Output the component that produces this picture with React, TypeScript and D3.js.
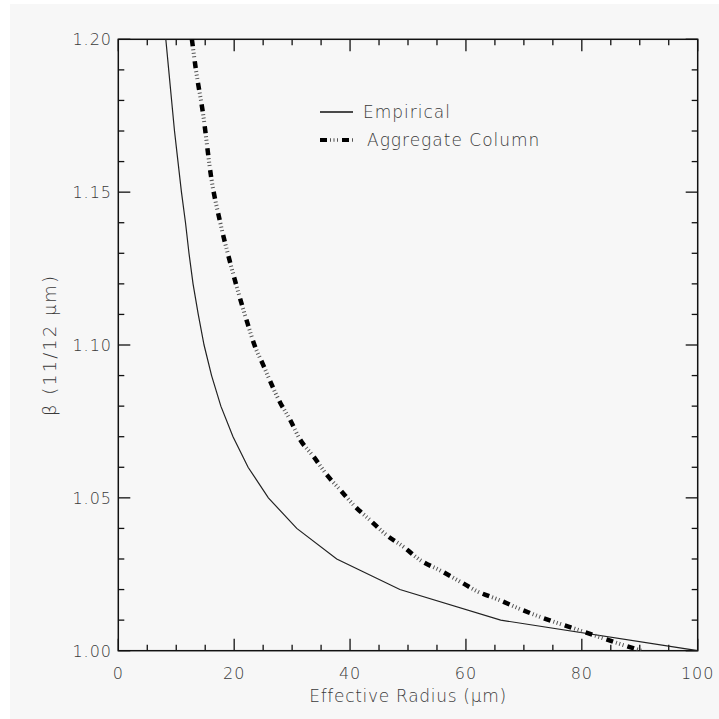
import React from "react";
import * as d3 from "d3";

// Empirical curve: effective radius (µm) vs beta
const empR = [8.2, 8.7, 9.2, 9.7, 10.3, 10.9, 11.6, 12.2, 12.9, 13.8, 14.8, 16.1, 17.7, 19.8, 22.4, 25.9, 30.8, 37.7, 48.6, 66.0, 100];
const empB = [1.2, 1.19, 1.18, 1.17, 1.16, 1.15, 1.14, 1.13, 1.12, 1.11, 1.1, 1.09, 1.08, 1.07, 1.06, 1.05, 1.04, 1.03, 1.02, 1.01, 1.0];

// Aggregate column curve
const aggR = [12.7, 13.4, 14.6, 16.1, 17.6, 19.3, 20.3, 22.4, 23.5, 25.0, 27.9, 29.6, 31.4, 33.7, 36.0, 38.3, 40.9, 43.4, 46.3, 49.2, 52.2, 55.4, 59.0, 62.1, 65.6, 69.0, 72.3, 79.4, 83.1, 86.6, 90.3];
const aggB = [1.2, 1.19, 1.176, 1.154, 1.14, 1.127, 1.12, 1.1065, 1.1, 1.0935, 1.0813, 1.0757, 1.069, 1.0635, 1.0575, 1.0526, 1.0471, 1.0428, 1.0378, 1.034, 1.0295, 1.0264, 1.0226, 1.0193, 1.0167, 1.0139, 1.0114, 1.0068, 1.0044, 1.0022, 1.0];

const xMajor = [0, 20, 40, 60, 80, 100];
const yMajor = [1.0, 1.05, 1.1, 1.15, 1.2];
const seriesNames = ["Empirical", "Aggregate Column"];
const xTitle = "Effective Radius (μm)";
const yTitle = "β (11/12 μm)";

const W = 719, H = 719;
const L = 118.3, R = 697.7, T = 39.3, B = 650.7;

const FONT = "'DejaVu Sans', sans-serif";
const TXT = "#3a3a3a";

export default function App() {
  const x = d3.scaleLinear().domain([0, 100]).range([L, R]);
  const y = d3.scaleLinear().domain([1.0, 1.2]).range([B, T]);

  const line = d3
    .line<[number, number]>()
    .x((d) => x(d[0]))
    .y((d) => y(d[1]))
    .curve(d3.curveMonotoneX);

  const empPts: [number, number][] = empR.map((r, i) => [r, empB[i]]);
  const aggPts: [number, number][] = aggR.map((r, i) => [r, aggB[i]]);
  const linEmp = d3
    .line<[number, number]>()
    .x((d) => x(d[0]))
    .y((d) => y(d[1]));

  const xMinor = d3.range(0, 101, 5).filter((v) => v % 20 !== 0);
  const yMinor = d3.range(0, 21, 1).map((k) => 1 + k * 0.01).filter((_, k) => k % 5 !== 0);

  const major = 12, minor = 6;
  const stroke = "#111";

  const dashArr = "7 15";
  const dotArr = "0 10 1 2.5 1 2.5 1 4";

  return (
    <svg
      width={W}
      height={H}
      style={{ position: "absolute", left: 0, top: 0 }}
      fontFamily={FONT}
    >
      <rect x={0} y={0} width={W} height={H} fill="#ffffff" />
      <rect x={10} y={4} width={W - 10} height={H - 4} fill="#f7f7f7" />
      <defs>
        <clipPath id="plot">
          <rect x={L} y={T} width={R - L} height={B - T} />
        </clipPath>
      </defs>

      {/* frame */}
      <rect x={L} y={T} width={R - L} height={B - T} fill="none" stroke={stroke} strokeWidth={1.5} />

      {/* x ticks (bottom and top) */}
      {xMajor.map((v) => (
        <g key={"xm" + v}>
          <line x1={x(v)} x2={x(v)} y1={B} y2={B - major} stroke={stroke} strokeWidth={1.3} />
          <line x1={x(v)} x2={x(v)} y1={T} y2={T + major} stroke={stroke} strokeWidth={1.3} />
          <text x={x(v)} y={678.5} textAnchor="middle" fontSize={16} fontWeight={200} letterSpacing={1} fill={TXT}>
            {String(v)}
          </text>
        </g>
      ))}
      {xMinor.map((v) => (
        <g key={"xn" + v}>
          <line x1={x(v)} x2={x(v)} y1={B} y2={B - minor} stroke={stroke} strokeWidth={1.3} />
          <line x1={x(v)} x2={x(v)} y1={T} y2={T + minor} stroke={stroke} strokeWidth={1.3} />
        </g>
      ))}

      {/* y ticks (left and right) */}
      {yMajor.map((v) => (
        <g key={"ym" + v}>
          <line x1={L} x2={L + major} y1={y(v)} y2={y(v)} stroke={stroke} strokeWidth={1.3} />
          <line x1={R} x2={R - major} y1={y(v)} y2={y(v)} stroke={stroke} strokeWidth={1.3} />
          <text x={112} y={y(v) + 6} textAnchor="end" fontSize={16} fontWeight={200} letterSpacing={1} fill={TXT}>
            {v.toFixed(2)}
          </text>
        </g>
      ))}
      {yMinor.map((v, i) => (
        <g key={"yn" + i}>
          <line x1={L} x2={L + minor} y1={y(v)} y2={y(v)} stroke={stroke} strokeWidth={1.3} />
          <line x1={R} x2={R - minor} y1={y(v)} y2={y(v)} stroke={stroke} strokeWidth={1.3} />
        </g>
      ))}

      {/* curves */}
      <g clipPath="url(#plot)">
        <path d={linEmp(empPts) || ""} fill="none" stroke="#222" strokeWidth={1.2} />
        <path d={line(aggPts) || ""} fill="none" stroke="#555" strokeWidth={4} strokeDasharray={dotArr} />
        <path d={line(aggPts) || ""} fill="none" stroke="#000" strokeWidth={4.5} strokeDasharray={dashArr} />
      </g>

      {/* legend */}
      <g>
        <line x1={320} x2={353} y1={112} y2={112} stroke="#111" strokeWidth={1.5} />
        <text x={363} y={118} fontSize={17} fontWeight={200} letterSpacing={1} fill={TXT}>
          {seriesNames[0]}
        </text>
        <line x1={320} x2={353} y1={140} y2={140} stroke="#555" strokeWidth={3.5} strokeDasharray={dotArr} />
        <line x1={320} x2={353} y1={140} y2={140} stroke="#000" strokeWidth={4} strokeDasharray={dashArr} />
        <text x={367} y={146} fontSize={17} fontWeight={200} letterSpacing={1} fill={TXT}>
          {seriesNames[1]}
        </text>
      </g>

      {/* axis titles */}
      <text x={(L + R) / 2} y={702} textAnchor="middle" fontSize={17} fontWeight={200} letterSpacing={0.7} fill={TXT}>
        {xTitle}
      </text>
      <text
        transform={`translate(56, ${(T + B) / 2}) rotate(-90)`}
        textAnchor="middle"
        fontSize={18}
        fontWeight={200}
        letterSpacing={2}
        fill={TXT}
      >
        {yTitle}
      </text>
    </svg>
  );
}
